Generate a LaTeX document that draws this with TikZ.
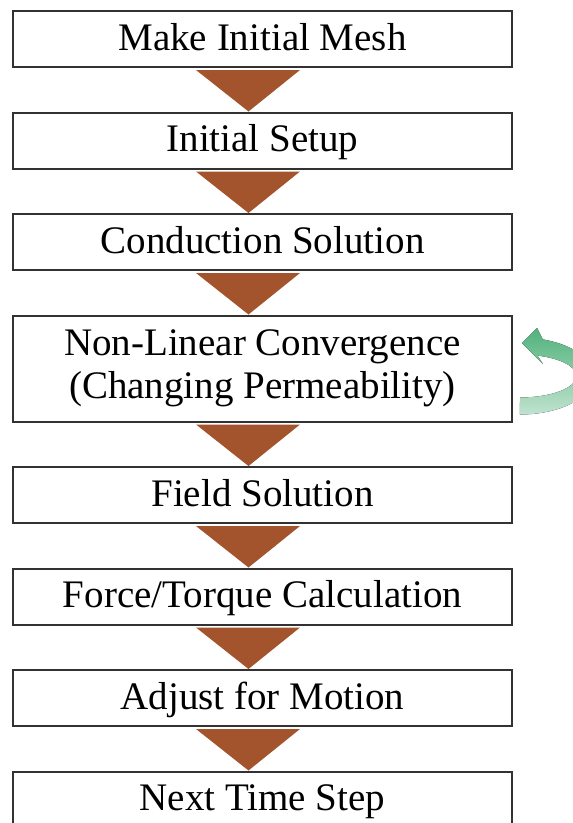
\documentclass[tikz,border=0pt]{standalone}
\usepackage{fontspec}
\setmainfont{Liberation Serif}
\usetikzlibrary{positioning,calc}
\definecolor{boxline}{RGB}{50,50,50}
\definecolor{tribrown}{RGB}{164,84,44}
\definecolor{loopdark}{RGB}{80,178,124}
\definecolor{looplight}{RGB}{192,227,207}

\begin{document}
\begin{tikzpicture}[x=1pt, y=-1pt, node distance=43.5pt,
    box/.style={draw=boxline, line width=2pt, minimum width=499pt, minimum height=56pt,
      inner sep=0pt, font=\fontsize{39}{43}\selectfont, text height=30pt, text depth=8pt},
    tri/.style={fill=tribrown}]
      \useasboundingbox (0,0) rectangle (573,823);
      \node[box] (mesh) at (262.5,39) {Make Initial Mesh};
      \node[box] (setup) [below=of mesh] {Initial Setup};
      \node[box] (cond) [below=of setup] {Conduction Solution};
      \node[box, minimum height=106pt, text height=, text depth=, align=center] (nonlin) [below=of cond]
        {Non-Linear Convergence\\(Changing Permeability)};
      \node[box] (field) [below=of nonlin] {Field Solution};
      \node[box] (force) [below=of field] {Force/Torque Calculation};
      \node[box] (motion) [below=of force] {Adjust for Motion};
      \node[box] (next) [below=of motion] {Next Time Step};

      % brown arrow heads between the steps
      \foreach \a/\b in {mesh/setup, setup/cond, cond/nonlin, nonlin/field,
          field/force, force/motion, motion/next}
        \fill[tri] ($(\a.south)+(-66.5,2)$) -- ($(\a.south)+(37.5,2)$) -- ($(\b.north)+(-14,0)$) -- cycle;

      % loop arrow
      \coordinate (loopc) at ($(nonlin.east)+(7,7.5)$);
      \fill[top color=loopdark, bottom color=looplight]
        ($(loopc)+(0,21.5)$) arc[start angle=90, end angle=-72, x radius=56.5, y radius=21.5]
        -- ($(loopc)+(23,-12)$) -- ($(loopc)+(2,-33)$) -- ($(loopc)+(17,-48)$)
        -- ($(loopc)+(22.7,-36.6)$) arc[start angle=-72, end angle=90, x radius=73.5, y radius=38.5]
        -- cycle;
    \end{tikzpicture}
\end{document}
